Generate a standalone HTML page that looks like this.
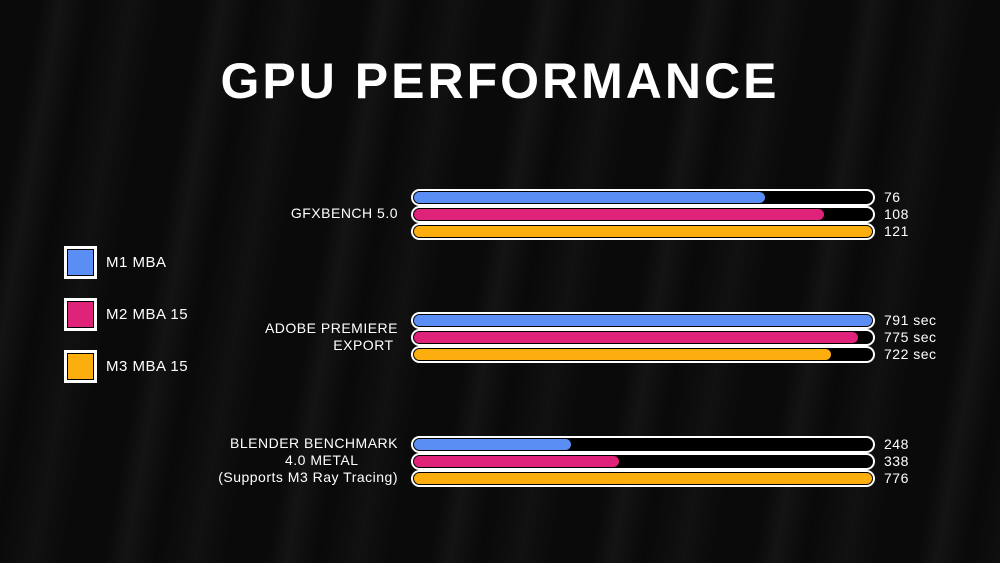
<!DOCTYPE html>
<html><head><style>
body{margin:0;width:1000px;height:563px;overflow:hidden;background:#080808;font-family:"Liberation Sans",sans-serif;color:#fff;position:relative}
.bg{position:absolute;inset:0;background:repeating-linear-gradient(100deg,#0a0a0a 0 40px,#141414 60px,#090909 90px,#111 130px,#0a0a0a 160px)}
.t{position:absolute;left:0;width:1000px;top:52px;text-align:center;font-size:50px;font-weight:bold;letter-spacing:3px}
.tr{position:absolute;left:411px;width:460px;height:13px;border:2px solid #fff;border-radius:9px;background:#000}
.f{position:absolute;left:1px;top:1px;height:11px;border-radius:6px}
.v{position:absolute;left:884px;font-size:14px;line-height:17px;letter-spacing:0.5px}
.l{position:absolute;right:602px;text-align:right;font-size:14px;line-height:17px;letter-spacing:0.5px}
.lg{position:absolute;left:64px;width:27px;height:27px;border:3px solid #fff;box-shadow:inset 0 0 0 1px #000}
.lt{position:absolute;left:106px;font-size:15px;letter-spacing:0.5px}
.b{background:#5b8ef5}.m{background:#df237a}.o{background:#fdae0f}
</style></head><body><div class="bg"></div>
<div class="t">GPU PERFORMANCE</div>
<div class="lg b" style="top:246px"></div><div class="lt" style="top:254px">M1 MBA</div>
<div class="lg m" style="top:298px"></div><div class="lt" style="top:306px">M2 MBA 15</div>
<div class="lg o" style="top:350px"></div><div class="lt" style="top:358px">M3 MBA 15</div>

<div class="l" style="top:205px">GFXBENCH 5.0</div>
<div class="tr" style="top:189px"><div class="f b" style="width:351px"></div></div>
<div class="tr" style="top:206px"><div class="f m" style="width:410px"></div></div>
<div class="tr" style="top:223px"><div class="f o" style="width:458px"></div></div>
<div class="v" style="top:189px">76</div><div class="v" style="top:206px">108</div><div class="v" style="top:223px">121</div>

<div class="l" style="top:320px">ADOBE PREMIERE<br>EXPORT&nbsp;</div>
<div class="tr" style="top:312px"><div class="f b" style="width:458px"></div></div>
<div class="tr" style="top:329px"><div class="f m" style="width:444px"></div></div>
<div class="tr" style="top:346px"><div class="f o" style="width:417px"></div></div>
<div class="v" style="top:312px">791 sec</div><div class="v" style="top:329px">775 sec</div><div class="v" style="top:346px">722 sec</div>

<div class="l" style="top:435px">BLENDER BENCHMARK<br>4.0 METAL&nbsp;&nbsp;&nbsp;&nbsp;&nbsp;&nbsp;&nbsp;&nbsp;&nbsp;<br>(Supports M3 Ray Tracing)</div>
<div class="tr" style="top:436px"><div class="f b" style="width:157px"></div></div>
<div class="tr" style="top:453px"><div class="f m" style="width:205px"></div></div>
<div class="tr" style="top:470px"><div class="f o" style="width:458px"></div></div>
<div class="v" style="top:436px">248</div><div class="v" style="top:453px">338</div><div class="v" style="top:470px">776</div>
</body></html>
